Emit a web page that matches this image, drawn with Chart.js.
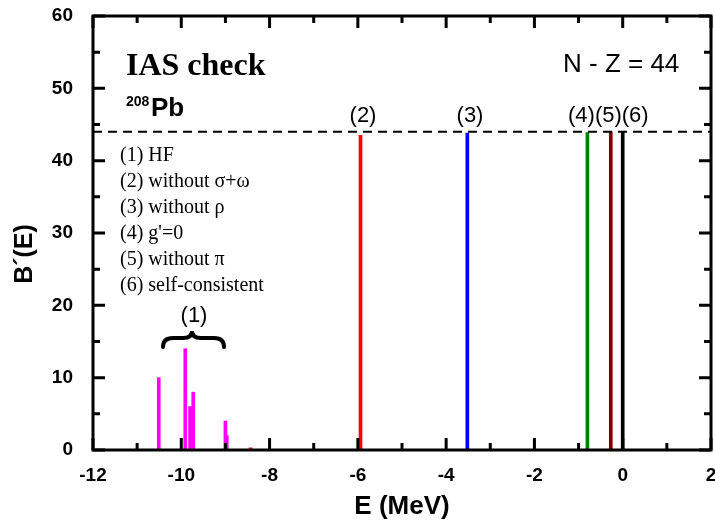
<!DOCTYPE html>
<html>
<head>
<meta charset="utf-8">
<script src="https://cdn.jsdelivr.net/npm/chart.js@4"></script>
<style>
  html, body { margin:0; padding:0; background:#fff; }
  #wrap { width:715px; height:525px; }
</style>
</head>
<body>
<div id="wrap"><canvas id="c" width="715" height="525"></canvas></div>
<script>
// strength spikes
const hfE = [-10.51, -9.91, -9.80, -9.73, -9.00, -8.97];
const hfB = [10, 14, 6, 8, 4, 2];
const noSigOmE = [-8.43, -5.94];
const noSigOmB = [0.3, 43.5];
const noRhoE = [-3.52];
const noRhoB = [43.8];
const gZeroE = [-0.80];
const gZeroB = [43.9];
const noPiE = [-0.27];
const noPiB = [44.0];
const selfE = [0.0];
const selfB = [44.0];
const sumRule = 44; // N - Z
const xTicks = [-12, 2, 2];   // min, max, step
const yTicks = [0, 60, 10];

const pts = (xs, ys) => xs.map((x, i) => ({ x: x, y: ys[i] }));
const SANS = "'Liberation Sans', Arial, sans-serif";
const SERIF = "'Liberation Serif', 'Times New Roman', serif";

function spikes(data, color){
  return { type:"bar", data:data, backgroundColor:color, borderWidth:0, barThickness:3, grouped:false };
}

// frame, inward ticks and annotation text
const decor = {
  id: "decor",
  afterDraw(chart){
    const ctx = chart.ctx, a = chart.chartArea;
    const sx = chart.scales.x, sy = chart.scales.y;
    ctx.save();
    ctx.strokeStyle = "#000"; ctx.lineWidth = 3;
    ctx.strokeRect(a.left, a.top, a.right - a.left, a.bottom - a.top);
    for (let v = xTicks[0]; v <= xTicks[1]; v += 1){
      const px = sx.getPixelForValue(v), len = (v % 2 === 0) ? 12 : 7;
      ctx.beginPath();
      ctx.moveTo(px, a.bottom); ctx.lineTo(px, a.bottom - len);
      ctx.moveTo(px, a.top); ctx.lineTo(px, a.top + len);
      ctx.stroke();
    }
    for (let v = yTicks[0]; v <= yTicks[1]; v += 5){
      const py = sy.getPixelForValue(v), len = (v % 10 === 0) ? 12 : 7;
      ctx.beginPath();
      ctx.moveTo(a.left, py); ctx.lineTo(a.left + len, py);
      ctx.moveTo(a.right, py); ctx.lineTo(a.right - len, py);
      ctx.stroke();
    }

    ctx.fillStyle = "#000";
    ctx.textBaseline = "alphabetic";
    ctx.textAlign = "left";
    ctx.font = "bold 32px " + SERIF;
    ctx.fillText("IAS check", 126, 75);
    ctx.font = "bold 14px " + SANS;
    ctx.fillText("208", 126, 106);
    ctx.font = "bold 26px " + SANS;
    ctx.fillText("Pb", 151, 116);
    ctx.font = "26px " + SANS;
    ctx.fillText("N - Z = 44", 563, 72);

    ctx.font = "20px " + SERIF;
    const leg = ["(1) HF", "(2) without σ+ω", "(3) without ρ", "(4) g'=0", "(5) without π", "(6) self-consistent"];
    leg.forEach((t, i) => ctx.fillText(t, 120, 161 + i * 26));

    ctx.font = "22px " + SANS;
    ctx.textAlign = "center";
    ctx.fillText("(2)", 363, 122);
    ctx.fillText("(3)", 470, 122);
    ctx.fillText("(1)", 194, 322);
    ctx.textAlign = "left";
    ctx.fillText("(4)(5)(6)", 568, 122);

    // brace over the HF group
    ctx.lineWidth = 4; ctx.lineCap = "round";
    ctx.beginPath();
    ctx.moveTo(163, 347);
    ctx.quadraticCurveTo(163, 338, 173, 338);
    ctx.lineTo(183, 338);
    ctx.quadraticCurveTo(192, 338, 192, 331);
    ctx.quadraticCurveTo(192, 338, 201, 338);
    ctx.lineTo(214, 338);
    ctx.quadraticCurveTo(224, 338, 224, 347);
    ctx.stroke();

    ctx.translate(25, 254);
    ctx.rotate(-Math.PI / 2);
    ctx.textAlign = "center"; ctx.textBaseline = "middle";
    ctx.font = "bold 25px " + SANS;
    ctx.fillText("B´(E)", 0, 0);
    ctx.restore();
  }
};

new Chart(document.getElementById("c").getContext("2d"), {
  type: "bar",
  data: {
    datasets: [
      { type:"line", data:[{x:xTicks[0], y:sumRule}, {x:xTicks[1], y:sumRule}], borderColor:"#000", borderWidth:2, borderDash:[9,6], pointRadius:0, fill:false },
      spikes(pts(hfE, hfB), "#ff00ff"),
      spikes(pts(noSigOmE, noSigOmB), "#ff0000"),
      spikes(pts(noRhoE, noRhoB), "#0000ff"),
      spikes(pts(gZeroE, gZeroB), "#008000"),
      spikes(pts(noPiE, noPiB), "#800000"),
      spikes(pts(selfE, selfB), "#000000")
    ]
  },
  options: {
    responsive: false,
    animation: false,
    layout: { padding: { top:16, right:4, left:0, bottom:0 } },
    plugins: { legend:{display:false}, tooltip:{enabled:false} },
    scales: {
      x: {
        type: "linear", min: xTicks[0], max: xTicks[1], offset: false,
        ticks: { stepSize: xTicks[2], color:"#000", font:{ family:SANS, size:19, weight:"bold" }, padding:14 },
        grid: { display:false, drawTicks:false, offset:false },
        border: { display:false },
        title: { display:true, text:"E (MeV)", color:"#000", font:{ family:SANS, size:26, weight:"bold" }, padding:{ top:0, bottom:3 } },
        afterFit(s){ s.height = 75; s.paddingLeft = 0; s.paddingRight = 0; }
      },
      y: {
        min: yTicks[0], max: yTicks[1],
        ticks: { stepSize: yTicks[2], color:"#000", font:{ family:SANS, size:19, weight:"bold" }, padding:20 },
        grid: { display:false, drawTicks:false },
        border: { display:false },
        afterFit(s){ s.width = 93; s.paddingTop = 0; s.paddingBottom = 0; }
      }
    }
  },
  plugins: [decor]
});
</script>
</body>
</html>
